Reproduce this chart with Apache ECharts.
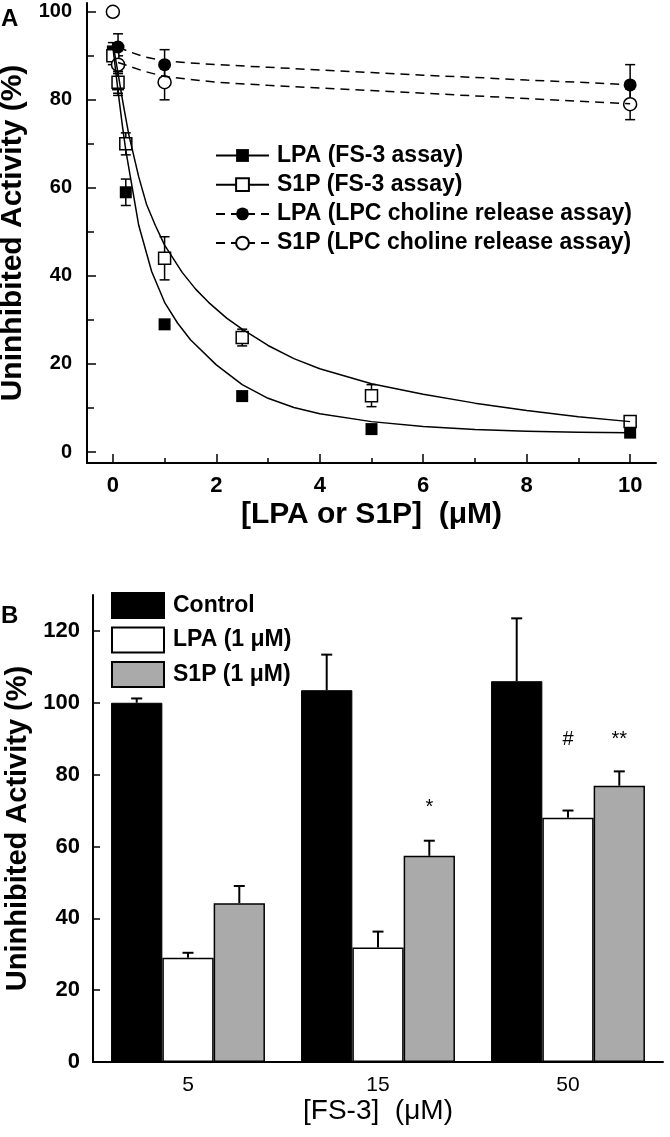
<!DOCTYPE html>
<html><head><meta charset="utf-8">
<script src="https://cdn.jsdelivr.net/npm/echarts@6/dist/echarts.min.js"></script>
<style>html,body{margin:0;padding:0;background:#fff}#c{width:670px;height:1137px}</style>
</head><body><div id="c"></div>
<script>
// ---------- Panel A data ----------
const fsX = [0, 0.1, 0.25, 1, 2.5, 5, 10];
const lpaFsY = [91, 83.5, 59, 29, 12.7, 5.2, 4.4];
const lpaFsErr = [2, 2.5, 3, 0, 0, 0, 0];
const s1pFsY = [90, 84, 70, 44, 26, 12.8, 6.9];
const s1pFsErr = [2, 2.5, 2.5, 4.9, 1.9, 2.5, 0.8];
const lpcX = [0, 0.1, 1, 10];
const lpaLpcY = [100, 92, 88, 83.4];
const lpaLpcErr = [0, 3, 3.4, 4.6];
const s1pLpcY = [100, 88, 84, 79];
const s1pLpcErr = [0, 2, 4, 3.5];
// fitted curves
const lpaFitX = [0, 0.05, 0.1, 0.18, 0.25, 0.36, 0.5, 0.75, 1, 1.25, 1.5, 2, 2.5, 3, 3.5, 4, 5, 6, 7, 8, 9, 10];
const lpaFitY = [92, 87, 82, 74.5, 68.5, 61, 51.5, 41, 34, 29.3, 25.5, 19.8, 15.3, 12.2, 10.1, 8.7, 6.9, 5.8, 5.1, 4.7, 4.5, 4.4];
const s1pFitX = [0, 0.05, 0.1, 0.2, 0.31, 0.5, 0.65, 0.82, 1, 1.34, 1.6, 1.85, 2.2, 2.5, 3, 3.5, 4, 5, 6, 7, 8, 9, 10];
const s1pFitY = [93, 89.5, 86, 79, 72, 62.5, 56.3, 51.5, 47, 40.8, 37, 34, 30.4, 27.9, 24.2, 21.2, 18.9, 15.5, 13.1, 11.1, 9.4, 8, 6.9];
const lpcFitX = [0.1, 0.3, 0.6, 1, 2, 3, 4, 5, 6, 7, 8, 9, 10];
const lpaLpcFitY = [92, 91, 89.8, 88.8, 88, 87.4, 86.8, 86.2, 85.6, 85.1, 84.5, 84, 83.4];
const s1pLpcFitY = [88.5, 87.7, 86.5, 85.3, 84, 83.3, 82.7, 82.1, 81.5, 80.9, 80.3, 79.7, 79.1];
const xTicksA = [0, 2, 4, 6, 8, 10];
const xMinorA = [1, 3, 5, 7, 9];
const yTicksA = [0, 20, 40, 60, 80, 100];
const yMinorA = [10, 30, 50, 70, 90];
const namesA = ['LPA (FS-3 assay)', 'S1P (FS-3 assay)', 'LPA (LPC choline release assay)', 'S1P (LPC choline release assay)'];

// ---------- Panel B data ----------
const fsConc = ['5', '15', '50'];
const ctrl = [100, 103.5, 106];
const ctrlErr = [1.2, 9.9, 17.5];
const lpaB = [29, 31.9, 68];
const lpaBErr = [1.4, 4.4, 2];
const s1pB = [44.2, 57.4, 76.9];
const s1pBErr = [4.8, 4.2, 4];
const notesLpa = ['', '', '#'];
const notesLpaY = [null, null, 89.7];
const notesS1p = ['', '*', '**'];
const notesS1pY = [null, 70.8, 89.7];
const yTicksB = [0, 20, 40, 60, 80, 100, 120];
const namesB = ['Control', 'LPA (1 \u03bcM)', 'S1P (1 \u03bcM)'];

const FF = '"Liberation Sans", Arial, Helvetica, sans-serif';
const zip = (a, b) => a.map((v, i) => [v, b[i]]);
const zip3 = (a, b, c) => a.map((v, i) => [v, b[i], c[i]]);

function errA(params, api) {
  const x = api.value(0), y = api.value(1), e = api.value(2);
  if (!e) return null;
  const t = api.coord([x, y + e]), b = api.coord([x, y - e]);
  const w = 5, st = { stroke: '#000', lineWidth: 1.5 };
  return { type: 'group', children: [
    { type: 'line', shape: { x1: t[0], y1: t[1], x2: b[0], y2: b[1] }, style: st },
    { type: 'line', shape: { x1: t[0] - w, y1: t[1], x2: t[0] + w, y2: t[1] }, style: st },
    { type: 'line', shape: { x1: b[0] - w, y1: b[1], x2: b[0] + w, y2: b[1] }, style: st }
  ]};
}
const GAP = 0.19;
function barShift(k, api) {
  const band = api.size([1, 0])[0];
  const bw = band * (1 - GAP) / 3;
  return (k - 1) * bw;
}
function errB(k) {
  return function (params, api) {
    const i = api.value(0), y = api.value(1), e = api.value(2);
    const dx = barShift(k, api);
    const b = api.coord([i, y]), t = api.coord([i, y + e]);
    const w = 5.5, st = { stroke: '#000', lineWidth: 2 };
    return { type: 'group', children: [
      { type: 'line', shape: { x1: b[0] + dx, y1: b[1], x2: t[0] + dx, y2: t[1] }, style: st },
      { type: 'line', shape: { x1: t[0] + dx - w, y1: t[1], x2: t[0] + dx + w, y2: t[1] }, style: st }
    ]};
  };
}
function noteB(k, texts) {
  return function (params, api) {
    const txt = texts[params.dataIndex];
    if (!txt) return null;
    const i = api.value(0), y = api.value(1);
    const p = api.coord([i, y]);
    return { type: 'text', style: { text: txt, x: p[0] + barShift(k, api), y: p[1], textAlign: 'center', textVerticalAlign: 'middle', fontSize: 20, fontFamily: FF, fill: '#000' } };
  };
}

const axisLineBlack = { show: true, onZero: false, lineStyle: { color: '#000', width: 2 } };
const tickStyle = { color: '#000', width: 1.5 };
const chart = echarts.init(document.getElementById('c'), null, { renderer: 'canvas' });
chart.setOption({
  animation: false,
  backgroundColor: '#fff',
  title: [
    { text: 'A', left: 1, top: 7, padding: 0, textStyle: { fontSize: 24, fontWeight: 'bold', fontFamily: FF, color: '#000' } },
    { text: 'B', left: 1, top: 604, padding: 0, textStyle: { fontSize: 24, fontWeight: 'bold', fontFamily: FF, color: '#000' } }
  ],
  grid: [
    { left: 87, top: 3, width: 569, height: 460, containLabel: false, outerBoundsMode: 'none' },
    { left: 93, top: 595, width: 570, height: 467, containLabel: false, outerBoundsMode: 'none' }
  ],
  legend: [
    { data: namesA, orient: 'vertical', left: 215, top: 144, itemWidth: 53, itemHeight: 16, itemGap: 6.2, padding: 0, selectedMode: false,
      textStyle: { fontSize: 23, fontWeight: 'bold', fontFamily: FF, color: '#000', lineHeight: 16, padding: [0, 0, 0, 3] } },
    { data: namesB, orient: 'vertical', left: 111, top: 592, itemWidth: 52, itemHeight: 25, itemGap: 7.5, padding: 0, selectedMode: false, icon: 'rect',
      textStyle: { fontSize: 23, fontWeight: 'bold', fontFamily: FF, color: '#000', lineHeight: 25, padding: [0, 0, 0, 4] } }
  ],
  xAxis: [
    { gridIndex: 0, type: 'value', min: -0.5, max: 10.5, position: 'bottom', axisLine: axisLineBlack,
      axisTick: { show: true, inside: true, length: 9, lineStyle: tickStyle, customValues: xTicksA },
      axisLabel: { customValues: xTicksA, fontSize: 22, fontWeight: 'bold', fontFamily: FF, color: '#000', margin: 12 },
      splitLine: { show: false },
      name: '[LPA or S1P]  (\u03bcM)', nameLocation: 'middle', nameGap: 37,
      nameTextStyle: { fontSize: 30, fontWeight: 'bold', fontFamily: FF, color: '#000' } },
    { gridIndex: 0, type: 'value', min: -0.5, max: 10.5, position: 'bottom', axisLine: { show: false, onZero: false },
      axisTick: { show: true, inside: true, length: 5, lineStyle: tickStyle, customValues: xMinorA },
      axisLabel: { show: false }, splitLine: { show: false } },
    { gridIndex: 1, type: 'category', data: fsConc, position: 'bottom', axisLine: axisLineBlack,
      axisTick: { show: false },
      axisLabel: { fontSize: 21, fontFamily: FF, color: '#000', margin: 13 },
      name: '[FS-3]  (\u03bcM)', nameLocation: 'middle', nameGap: 35,
      nameTextStyle: { fontSize: 28, fontFamily: FF, color: '#000' } }
  ],
  yAxis: [
    { gridIndex: 0, type: 'value', min: -2.5, max: 102, position: 'left', axisLine: axisLineBlack,
      axisTick: { show: true, inside: true, length: 9, lineStyle: tickStyle, customValues: yTicksA },
      axisLabel: { customValues: yTicksA, fontSize: 20, fontWeight: 'bold', fontFamily: FF, color: '#000', margin: 15 },
      splitLine: { show: false },
      name: 'Uninhibited Activity (%)', nameLocation: 'middle', nameGap: 51,
      nameTextStyle: { fontSize: 30, fontWeight: 'bold', fontFamily: FF, color: '#000' } },
    { gridIndex: 0, type: 'value', min: -2.5, max: 102, position: 'left', axisLine: { show: false, onZero: false },
      axisTick: { show: true, inside: true, length: 7, lineStyle: tickStyle, customValues: yMinorA },
      axisLabel: { show: false }, splitLine: { show: false } },
    { gridIndex: 1, type: 'value', min: 0, max: 130, interval: 20, position: 'left', axisLine: axisLineBlack,
      axisTick: { show: true, inside: true, length: 7, lineStyle: tickStyle, customValues: yTicksB },
      axisLabel: { customValues: yTicksB, fontSize: 22, fontWeight: 'bold', fontFamily: FF, color: '#000', margin: 13 },
      splitLine: { show: false },
      name: 'Uninhibited Activity (%)', nameLocation: 'middle', nameGap: 46,
      nameTextStyle: { fontSize: 29, fontWeight: 'bold', fontFamily: FF, color: '#000' } }
  ],
  series: [
    // fitted curves (also provide legend icons)
    { name: namesA[0], type: 'line', xAxisIndex: 0, yAxisIndex: 0, data: zip(lpaFitX, lpaFitY), symbol: 'rect', showSymbol: false, smooth: false, z: 5,
      itemStyle: { color: '#000' }, lineStyle: { color: '#000', width: 1.5, join: 'round' } },
    { name: namesA[1], type: 'line', xAxisIndex: 0, yAxisIndex: 0, data: zip(s1pFitX, s1pFitY), symbol: 'emptyRect', showSymbol: false, smooth: false, z: 5,
      itemStyle: { color: '#000' }, lineStyle: { color: '#000', width: 1.5, join: 'round' } },
    { name: namesA[2], type: 'line', xAxisIndex: 0, yAxisIndex: 0, data: zip(lpcFitX, lpaLpcFitY), symbol: 'circle', showSymbol: false, smooth: false, z: 5,
      itemStyle: { color: '#000' }, lineStyle: { color: '#000', width: 1.5, type: [9, 6] } },
    { name: namesA[3], type: 'line', xAxisIndex: 0, yAxisIndex: 0, data: zip(lpcFitX, s1pLpcFitY), symbol: 'emptyCircle', showSymbol: false, smooth: false, z: 5,
      itemStyle: { color: '#000' }, lineStyle: { color: '#000', width: 1.5, type: [9, 6] } },
    // error bars A
    { type: 'custom', xAxisIndex: 0, yAxisIndex: 0, data: zip3(fsX, lpaFsY, lpaFsErr), renderItem: errA, z: 2, encode: { x: 0, y: 1 } },
    { type: 'custom', xAxisIndex: 0, yAxisIndex: 0, data: zip3(fsX, s1pFsY, s1pFsErr), renderItem: errA, z: 2, encode: { x: 0, y: 1 } },
    { type: 'custom', xAxisIndex: 0, yAxisIndex: 0, data: zip3(lpcX, lpaLpcY, lpaLpcErr), renderItem: errA, z: 2, encode: { x: 0, y: 1 } },
    { type: 'custom', xAxisIndex: 0, yAxisIndex: 0, data: zip3(lpcX, s1pLpcY, s1pLpcErr), renderItem: errA, z: 2, encode: { x: 0, y: 1 } },
    // points A
    { name: 'pts1', type: 'scatter', xAxisIndex: 0, yAxisIndex: 0, data: zip(fsX, lpaFsY), symbol: 'rect', symbolSize: 12, z: 3,
      itemStyle: { color: '#000', opacity: 1 } },
    { name: 'pts2', type: 'scatter', xAxisIndex: 0, yAxisIndex: 0, data: zip(fsX, s1pFsY), symbol: 'rect', symbolSize: 12, z: 3,
      itemStyle: { color: '#fff', borderColor: '#000', borderWidth: 1.5, opacity: 1 } },
    { name: 'pts3', type: 'scatter', xAxisIndex: 0, yAxisIndex: 0, data: zip(lpcX, lpaLpcY), symbol: 'circle', symbolSize: 13, z: 3,
      itemStyle: { color: '#000', opacity: 1 } },
    { name: 'pts4', type: 'scatter', xAxisIndex: 0, yAxisIndex: 0, data: zip(lpcX, s1pLpcY), symbol: 'circle', symbolSize: 13, z: 3,
      itemStyle: { color: '#fff', borderColor: '#000', borderWidth: 1.5, opacity: 1 } },
    // Panel B bars
    { name: namesB[0], type: 'bar', xAxisIndex: 2, yAxisIndex: 2, data: ctrl, barGap: '0%', barCategoryGap: (GAP * 100) + '%',
      itemStyle: { color: '#000', borderColor: '#000', borderWidth: 1 } },
    { name: namesB[1], type: 'bar', xAxisIndex: 2, yAxisIndex: 2, data: lpaB, barGap: '0%', barCategoryGap: (GAP * 100) + '%',
      itemStyle: { color: '#fff', borderColor: '#000', borderWidth: 1.5 } },
    { name: namesB[2], type: 'bar', xAxisIndex: 2, yAxisIndex: 2, data: s1pB, barGap: '0%', barCategoryGap: (GAP * 100) + '%',
      itemStyle: { color: '#aaaaaa', borderColor: '#000', borderWidth: 1.5 } },
    { type: 'custom', xAxisIndex: 2, yAxisIndex: 2, data: zip3([0, 1, 2], ctrl, ctrlErr), renderItem: errB(0), z: 3 },
    { type: 'custom', xAxisIndex: 2, yAxisIndex: 2, data: zip3([0, 1, 2], lpaB, lpaBErr), renderItem: errB(1), z: 3 },
    { type: 'custom', xAxisIndex: 2, yAxisIndex: 2, data: zip3([0, 1, 2], s1pB, s1pBErr), renderItem: errB(2), z: 3 },
    { type: 'custom', xAxisIndex: 2, yAxisIndex: 2, data: zip([0, 1, 2], notesLpaY), renderItem: noteB(1, notesLpa), z: 4 },
    { type: 'custom', xAxisIndex: 2, yAxisIndex: 2, data: zip([0, 1, 2], notesS1pY), renderItem: noteB(2, notesS1p), z: 4 }
  ]
});
</script></body></html>
